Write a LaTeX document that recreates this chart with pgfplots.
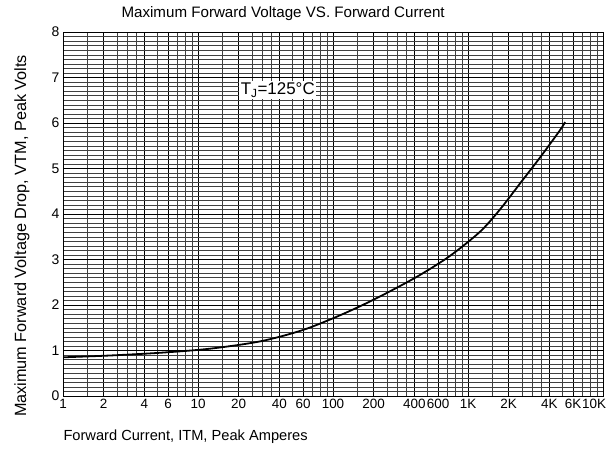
\documentclass[border=0pt]{standalone}
\usepackage{pgfplots}
\pgfplotsset{compat=1.18}
\usepackage{fontspec}
\setmainfont{Liberation Sans}
\begin{document}
\begin{tikzpicture}[x=1bp,y=1bp]
\useasboundingbox (0,0) rectangle (608,450);
\begin{axis}[
  at={(63bp,54bp)}, anchor=south west,
  scale only axis, width=540bp, height=364bp,
  xmode=log, xmin=1, xmax=10000, ymin=0, ymax=8,
  xtick={1,2,4,6,10,20,40,60,100,200,400,600,1000,2000,4000,6000,10000},
  xticklabels={1,2,4,6,10,20,40,60,100,200,400,600,1K,2K,4K,6K,\makebox[6bp][r]{10K}},
  minor xtick={1.5,2,2.5,3,3.5,4,5,6,7,8,9,
    15,20,25,30,35,40,50,60,70,80,90,
    150,200,250,300,350,400,500,600,700,800,900,
    1500,2000,2500,3000,3500,4000,5000,6000,7000,8000,9000},
  ytick={0,...,8}, yticklabels={0,1,2,3,4,5,6,7,8},
  minor ytick={0,0.1,...,8},
  major tick length=0pt, minor tick length=0pt,
  xticklabel style={font=\fontsize{13.5}{13.5}\selectfont, yshift=0bp, inner xsep=0pt},
  yticklabel style={font=\fontsize{14}{14}\selectfont},
  grid=both,
  major grid style={black, line width=0.7pt},
  minor grid style={black!75, line width=0.4pt},
  axis line style={black, line width=0.8pt},
  clip=true,
]
\addplot[black, line width=1.8pt, smooth, tension=0.5] coordinates {
(1,0.85) (2.23,0.89) (5.24,0.95) (12.3,1.04) (28.8,1.20) (57,1.43)
(95,1.68) (158,1.97) (264,2.30) (441,2.66) (736,3.08) (1227,3.61)
(1726,4.10) (2427,4.67) (3412,5.24) (4797,5.84) (5236,6.02)
};
\node[fill=white, inner xsep=1.5bp, inner ysep=2bp, font=\fontsize{17}{17}\selectfont] at (axis cs:39,6.72) {T\textsubscript{J}=125°C};
\end{axis}
\node[anchor=west, font=\fontsize{15.2}{15.2}\selectfont] at (118,436) {Maximum Forward Voltage VS. Forward Current};
\node[anchor=west, font=\fontsize{14.7}{14.7}\selectfont] at (60,13) {Forward Current, ITM, Peak Amperes};
\node[rotate=90, font=\fontsize{16.3}{16.3}\selectfont] at (22,214) {Maximum Forward Voltage Drop, VTM, Peak Volts};
\end{tikzpicture}
\end{document}
